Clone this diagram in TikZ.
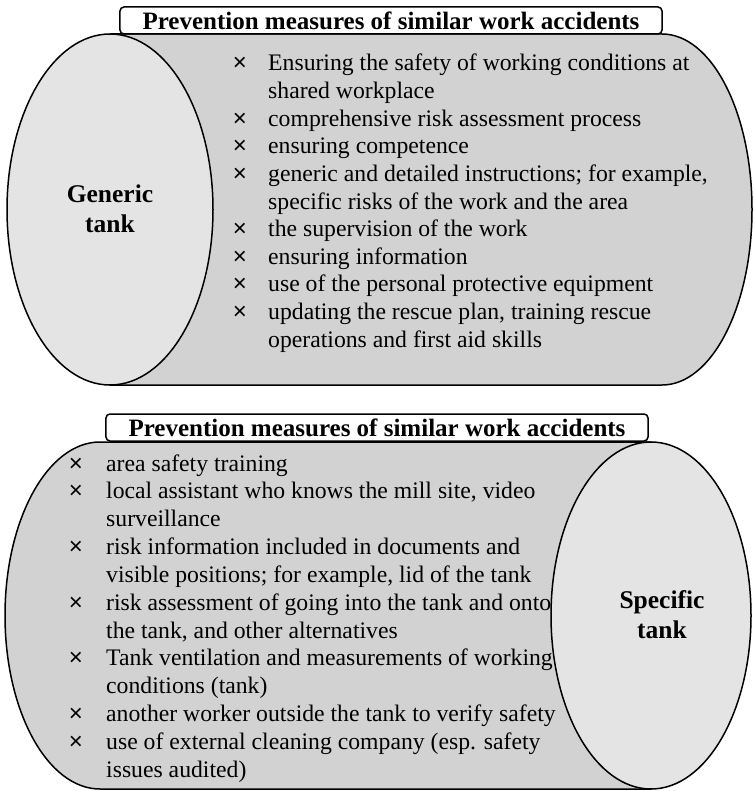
\documentclass[tikz,border=0pt]{standalone}
\usepackage{fontspec}
\setmainfont{Liberation Serif}
\newfontfamily\crossfont{Liberation Sans}
\definecolor{bodygray}{RGB}{209,210,209}
\definecolor{capgray}{RGB}{228,228,228}
\begin{document}
\begin{tikzpicture}[x=1bp,y=-1bp,
  outline/.style={draw=black, line width=1.5bp, line join=round},
  body/.style={outline, fill=bodygray},
  endcap/.style={outline, fill=capgray},
  titlebox/.style={outline, fill=white, rounded corners=4bp, inner sep=0pt,
    minimum width=542bp, minimum height=27bp,
    font=\bfseries\fontsize{25bp}{30bp}\selectfont},
  tanklabel/.style={inner sep=0pt, align=center,
    font=\bfseries\fontsize{25.5bp}{30bp}\selectfont},
  entry/.style={anchor=base west, inner sep=0pt,
    font=\fontsize{23.7bp}{27.6bp}\selectfont},
  bulletsym/.style={anchor=base, inner sep=0pt,
    font=\crossfont\fontsize{24bp}{27.6bp}\selectfont},
]
\useasboundingbox (0,0) rectangle (754,791);

% ---- upper cylinder: generic tank ----
\draw[body] (110,34) -- (662,34)
  arc[start angle=-90, end angle=90, x radius=90, y radius=175.5]
  -- (110,385) -- cycle;
\draw[endcap] (110,209.5) ellipse[x radius=103, y radius=175.5];
\node[tanklabel] (generic) at (110,209) {Generic\\tank};
\node[titlebox] (titleA) at (391,20.5) {Prevention measures of similar work accidents};

\foreach \y [count=\i] in {71,126.2,153.8,181.4,236.6,264.2,291.8,319.4}
  \node[bulletsym] (gx\i) at (240,\y) {×};
\node[entry] (g1)  at (268,71)    {Ensuring the safety of working conditions at};
\node[entry] (g2)  at (268,98.6)  {shared workplace};
\node[entry] (g3)  at (268,126.2) {comprehensive risk assessment process};
\node[entry] (g4)  at (268,153.8) {ensuring competence};
\node[entry] (g5)  at (268,181.4) {generic and detailed instructions; for example,};
\node[entry] (g6)  at (268,209)   {specific risks of the work and the area};
\node[entry] (g7)  at (268,236.6) {the supervision of the work};
\node[entry] (g8)  at (268,264.2) {ensuring information};
\node[entry] (g9)  at (268,291.8) {use of the personal protective equipment};
\node[entry] (g10) at (268,319.4) {updating the rescue plan, training rescue};
\node[entry] (g11) at (268,347)   {operations and first aid skills};

% ---- lower cylinder: specific tank ----
\draw[body] (651,442) -- (100,442)
  arc[start angle=-90, end angle=-270, x radius=95, y radius=173.5]
  -- (651,789) -- cycle;
\draw[endcap] (651,615.5) ellipse[x radius=100, y radius=173.5];
\node[tanklabel] (specific) at (662,615) {Specific\\tank};
\node[titlebox] (titleB) at (377,427.5) {Prevention measures of similar work accidents};

\foreach \y [count=\i] in {471,498.85,554.55,610.25,665.95,721.65,749.5}
  \node[bulletsym] (sx\i) at (76,\y) {×};
\node[entry] (s1)  at (106,471)    {area safety training};
\node[entry] (s2)  at (106,498.85) {local assistant who knows the mill site, video};
\node[entry] (s3)  at (106,526.7)  {surveillance};
\node[entry] (s4)  at (106,554.55) {risk information included in documents and};
\node[entry] (s5)  at (106,582.4)  {visible positions; for example, lid of the tank};
\node[entry] (s6)  at (106,610.25) {risk assessment of going into the tank and onto};
\node[entry] (s7)  at (106,638.1)  {the tank, and other alternatives};
\node[entry] (s8)  at (106,665.95) {Tank ventilation and measurements of working};
\node[entry] (s9)  at (106,693.8)  {conditions (tank)};
\node[entry] (s10) at (106,721.65) {another worker outside the tank to verify safety};
\node[entry] (s11) at (106,749.5)  {use of external cleaning company (esp. safety};
\node[entry] (s12) at (106,777.35) {issues audited)};
\end{tikzpicture}
\end{document}
